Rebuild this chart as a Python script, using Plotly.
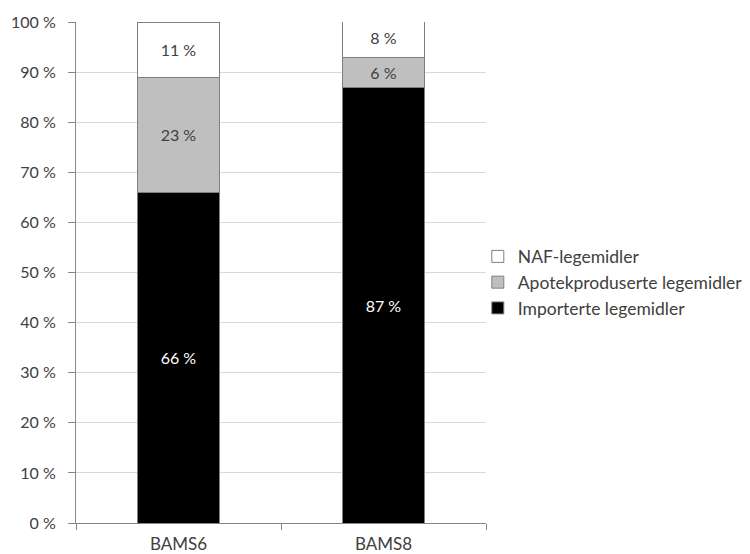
import plotly.graph_objects as go

# Share of each medicine type per survey round (percent)
categories = ["BAMS6", "BAMS8"]
importerte = [66, 87]
apotek = [23, 6]
naf = [11, 8]

series_names = ["Importerte legemidler", "Apotekproduserte legemidler", "NAF-legemidler"]
y_ticks = list(range(0, 101, 10))
y_tick_labels = [f"{v} %" for v in y_ticks]

FONT = "Lato, Open Sans, sans-serif"
TEXT = "#404040"
EDGE = "#7f7f7f"

fig = go.Figure()
fills = ["#000000", "#bfbfbf", "#ffffff"]
text_colors = ["#ffffff", TEXT, TEXT]
for name, values, fill, tcol in zip(series_names, [importerte, apotek, naf], fills, text_colors):
    fig.add_trace(go.Bar(
        x=categories, y=values, name=name,
        marker=dict(color=fill, line=dict(color=EDGE, width=1)),
        text=[f"{v} %" for v in values],
        textposition="inside", insidetextanchor="middle",
        textfont=dict(color=tcol, size=16, family=FONT),
        hoverinfo="skip",
    ))

fig.update_layout(
    barmode="stack",
    bargap=0.6,
    width=750, height=554,
    margin=dict(l=76, r=264, t=22, b=31, autoexpand=False),
    paper_bgcolor="white", plot_bgcolor="white",
    font=dict(family=FONT, color=TEXT, size=16),
    legend=dict(
        traceorder="reversed",
        x=0.98, y=0.48, xanchor="left", yanchor="middle",
        font=dict(size=17.5, color=TEXT, family=FONT),
        itemwidth=30, tracegroupgap=0,
        bgcolor="rgba(0,0,0,0)",
    ),
    showlegend=True,
)

fig.update_xaxes(
    showline=True, linecolor="#868686", linewidth=1,
    ticks="outside", tickson="boundaries", ticklen=6, tickcolor="#868686",
    ticklabelstandoff=6,
    showgrid=False, tickfont=dict(size=17, color=TEXT, family=FONT),
)
fig.update_yaxes(
    range=[0, 100], tickvals=y_ticks, ticktext=y_tick_labels,
    showline=True, linecolor="#868686", linewidth=1,
    ticks="outside", ticklen=7, tickcolor="#868686",
    ticklabelstandoff=9,
    showgrid=True, gridcolor="#d9d9d9", gridwidth=1,
    zeroline=False,
    tickfont=dict(size=16, color=TEXT, family=FONT),
)

fig.write_html("out.html")
